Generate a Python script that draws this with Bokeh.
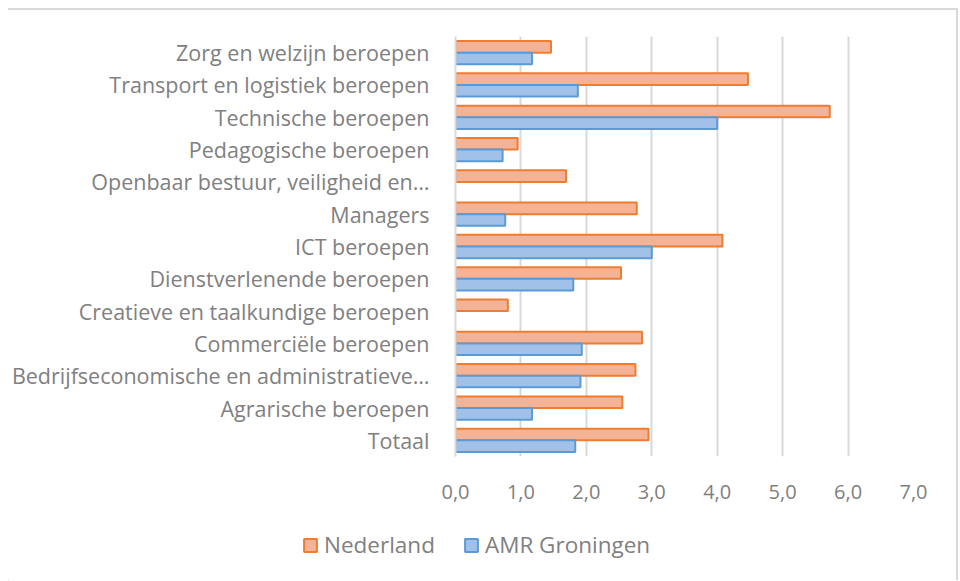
from bokeh.plotting import figure
from bokeh.models import ColumnDataSource, FactorRange, Legend, LegendItem, CustomJSTickFormatter, FixedTicker
from bokeh.layouts import column
from bokeh.transform import dodge
from bokeh.embed import file_html
from bokeh.resources import INLINE

categories = [
    "Zorg en welzijn beroepen",
    "Transport en logistiek beroepen",
    "Technische beroepen",
    "Pedagogische beroepen",
    "Openbaar bestuur, veiligheid en…",
    "Managers",
    "ICT beroepen",
    "Dienstverlenende beroepen",
    "Creatieve en taalkundige beroepen",
    "Commerciële beroepen",
    "Bedrijfseconomische en administratieve…",
    "Agrarische beroepen",
    "Totaal",
]
nederland = [1.46, 4.47, 5.72, 0.95, 1.69, 2.77, 4.08, 2.53, 0.80, 2.85, 2.75, 2.55, 2.95]
amr_groningen = [1.17, 1.87, 4.00, 0.72, None, 0.76, 3.00, 1.80, None, 1.93, 1.91, 1.17, 1.83]
x_ticks = [0, 1, 2, 3, 4, 5, 6, 7]
series_names = ["Nederland", "AMR Groningen"]

TEXT = "#808080"
FONT = "Open Sans"
NL_FILL, NL_LINE = "#f4b396", "#ed7d31"
AMR_FILL, AMR_LINE = "#a2c1e8", "#5b9bd5"

src = ColumnDataSource(dict(
    cat=categories,
    nl=nederland,
    amr=[float("nan") if v is None else v for v in amr_groningen],
))

W = 948
p = figure(
    width=W, height=510,
    y_range=FactorRange(*reversed(categories)),
    x_range=(0, 7),
    output_backend="svg", toolbar_location=None,
    min_border_left=447, min_border_right=43, min_border_top=26, min_border_bottom=64,
)
p.outline_line_color = None
p.background_fill_color = "white"
p.border_fill_color = "white"

bh = 0.36
p.hbar(y=dodge("cat", bh / 2, range=p.y_range), right="nl", left=0, height=bh, source=src,
       fill_color=NL_FILL, line_color=NL_LINE, line_width=2)
p.hbar(y=dodge("cat", -bh / 2, range=p.y_range), right="amr", left=0, height=bh, source=src,
       fill_color=AMR_FILL, line_color=AMR_LINE, line_width=2)

p.xaxis.ticker = FixedTicker(ticks=x_ticks)
p.xaxis.formatter = CustomJSTickFormatter(code="return tick.toFixed(1).replace('.', ',');")
p.xaxis.axis_line_color = None
p.xaxis.major_tick_line_color = None
p.xaxis.minor_tick_line_color = None
p.xaxis.major_label_standoff = 22
p.xaxis.major_label_text_font = FONT
p.xaxis.major_label_text_font_size = "20px"
p.xaxis.major_label_text_color = TEXT

p.yaxis.axis_line_color = "#d9d9d9"
p.yaxis.axis_line_width = 2
p.yaxis.major_tick_line_color = None
p.yaxis.minor_tick_line_color = None
p.yaxis.major_label_standoff = 20
p.yaxis.major_label_text_font = FONT
p.yaxis.major_label_text_font_size = "21.5px"
p.yaxis.major_label_text_color = TEXT

p.xgrid.grid_line_color = "#d9d9d9"
p.xgrid.grid_line_width = 2
p.ygrid.grid_line_color = None

# legend strip below the chart
q = figure(width=W, height=60, x_range=(0, 1), y_range=(0, 1),
           x_axis_type=None, y_axis_type=None,
           output_backend="svg", toolbar_location=None, min_border=0)
q.frame_align = False
q.outline_line_color = None
q.grid.visible = False
q.background_fill_color = "white"
q.border_fill_color = "white"
# legend swatch renderers: their single bar lies far outside the visible ranges
offscreen = ColumnDataSource(dict(y=[-50], left=[-60], right=[-50]))
g_nl = q.hbar(y="y", left="left", right="right", height=0.1, source=offscreen,
              fill_color=NL_FILL, line_color=NL_LINE, line_width=2)
g_amr = q.hbar(y="y", left="left", right="right", height=0.1, source=offscreen,
               fill_color=AMR_FILL, line_color=AMR_LINE, line_width=2)
legend = Legend(
    items=[LegendItem(label=series_names[0], renderers=[g_nl]),
           LegendItem(label=series_names[1], renderers=[g_amr])],
    orientation="horizontal",
    location=(294, 20),
    label_text_font=FONT, label_text_font_size="22.5px", label_text_color=TEXT,
    glyph_width=16, glyph_height=16, spacing=28, label_standoff=6, padding=0,
    margin=0, border_line_color=None, background_fill_alpha=0,
)
q.add_layout(legend, "center")

layout = column(p, q, spacing=0)
layout.styles = {"margin-top": "8px", "margin-left": "8px",
                 "border-top": "2px solid #d9d9d9", "border-right": "2px solid #d9d9d9"}

open("out.html", "w").write(file_html(layout, INLINE))
